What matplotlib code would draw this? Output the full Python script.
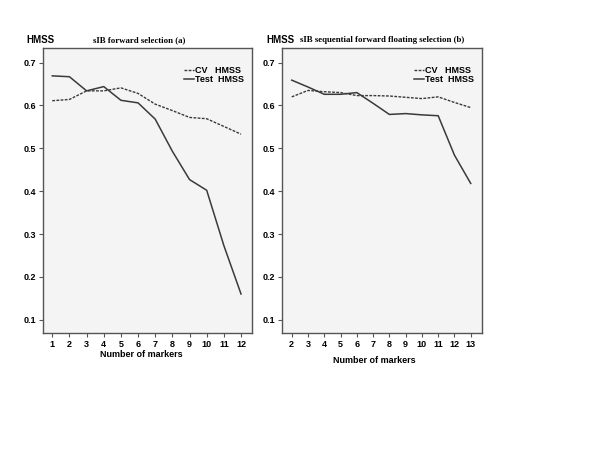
import matplotlib
matplotlib.use("Agg")
import matplotlib.pyplot as plt

# Panel (a)
x_a = [1, 2, 3, 4, 5, 6, 7, 8, 9, 10, 11, 12]
cv_a = [0.611, 0.614, 0.634, 0.634, 0.641, 0.628, 0.603, 0.588, 0.572, 0.569, 0.551, 0.533]
test_a = [0.669, 0.667, 0.634, 0.644, 0.612, 0.606, 0.568, 0.493, 0.427, 0.402, 0.273, 0.160]

# Panel (b)
x_b = [2, 3, 4, 5, 6, 7, 8, 9, 10, 11, 12, 13]
cv_b = [0.620, 0.635, 0.632, 0.630, 0.623, 0.623, 0.622, 0.619, 0.616, 0.620, 0.607, 0.595]
test_b = [0.659, 0.643, 0.626, 0.626, 0.630, 0.605, 0.579, 0.581, 0.578, 0.576, 0.484, 0.418]

yticks = [0.1, 0.2, 0.3, 0.4, 0.5, 0.6, 0.7]
titles = ["sIB forward selection (a)", "sIB sequential forward floating selection (b)"]

sans = "Liberation Sans"
serif = "Liberation Serif"
line_col = "#3a3a3a"
bg = "#f3f4f3"
frame = "#555555"

fig = plt.figure(figsize=(6, 4.5), dpi=100)
fig.patch.set_facecolor("white")

panels = [
    (x_a, cv_a, test_a, [0.0717, 0.26, 0.3483, 0.6333], (0.46, 12.64), titles[0], 0.46, 0.47, 1),
    (x_b, cv_b, test_b, [0.4705, 0.26, 0.3333, 0.6333], (1.42, 13.71), titles[1], 0.50, 0.46, 5),
]

for xs, cv, test, rect, xlim, title, tx, lx, lpad in panels:
    ax = fig.add_axes(rect)
    ax.set_facecolor(bg)
    ax.plot(xs, cv, linestyle=(0, (2, 1)), color=line_col, lw=1.0, label="CV   HMSS")
    ax.plot(xs, test, linestyle="-", color=line_col, lw=1.1, label="Test  HMSS")
    ax.set_xlim(*xlim)
    ax.set_ylim(0.069, 0.734)
    ax.set_xticks(xs)
    ax.set_yticks(yticks)
    ax.set_xticklabels([str(v) for v in xs], fontfamily=sans, fontweight="bold", fontsize=6.5)
    ax.set_yticklabels([f"{v:.1f}" for v in yticks], fontfamily=sans, fontweight="bold", fontsize=6.5)
    ax.tick_params(axis="both", direction="out", length=3, width=0.8, color=frame, pad=2)
    for s in ax.spines.values():
        s.set_color(frame)
        s.set_linewidth(1.0)
    ax.set_xlabel("Number of markers", fontfamily=sans, fontweight="bold", fontsize=6.5,
                  labelpad=lpad, x=lx)
    ax.text(tx, 1.015, title, transform=ax.transAxes, ha="center", va="bottom",
            fontfamily=serif, fontweight="bold", fontsize=6.3)
    ax.text(-0.08, 1.01, "HMSS", transform=ax.transAxes, ha="left", va="bottom",
            fontfamily=sans, fontweight="bold", fontsize=7)
    ax.legend(loc="upper right", bbox_to_anchor=(0.99, 0.96), frameon=False,
              prop={"family": sans, "weight": "bold", "size": 6.5},
              handlelength=1.1, handletextpad=0.1, labelspacing=0.0, borderpad=0.2)

fig.savefig("out.png", dpi=100)
